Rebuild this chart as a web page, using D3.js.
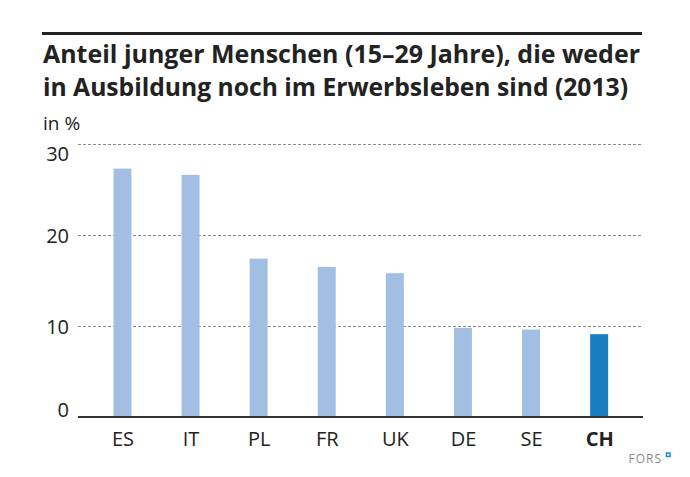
<!DOCTYPE html>
<html>
<head>
<meta charset="utf-8">
<script src="https://cdn.jsdelivr.net/npm/d3@7"></script>
<style>
  body { margin: 0; background: #fff; }
  text { font-family: "Open Sans", "Noto Sans", sans-serif; }
</style>
</head>
<body>
<script>
var countries = ["ES", "IT", "PL", "FR", "UK", "DE", "SE", "CH"];
var values = [27.3, 26.6, 17.4, 16.5, 15.8, 9.8, 9.6, 9.1];
var yTicks = [0, 10, 20, 30];
var titleLines = ["Anteil junger Menschen (15\u201329 Jahre), die weder",
  "in Ausbildung noch im Erwerbsleben sind (2013)"];

var width = 690,
  height = 477;
var margin = {
  top: 144,
  bottom: 60,
  left: 78,
  right: 47
};

var svg = d3.select('body')
  .append('svg')
  .attr('width', width)
  .attr('height', height)
  .style('background', '#fff');

// top rule + title
svg.append('line')
  .attr('x1', 42).attr('x2', 642)
  .attr('y1', 33.5).attr('y2', 33.5)
  .attr('stroke', '#222')
  .attr('stroke-width', 3);

svg.selectAll('.title')
  .data(titleLines)
  .enter()
  .append('text')
  .attr('class', 'title')
  .attr('x', 43)
  .attr('y', function(d, i) { return 63 + i * 33; })
  .attr('textLength', function(d, i) { return i == 0 ? 597 : 585; })
  .attr('lengthAdjust', 'spacingAndGlyphs')
  .style('font-size', '25px')
  .style('font-weight', 'bold')
  .style('fill', '#222')
  .text(function(d) { return d; });

svg.append('text')
  .attr('x', 43)
  .attr('y', 130)
  .style('font-size', '19px')
  .style('fill', '#222')
  .text('in %');

// scales
var yScale = d3.scaleLinear()
  .domain([0, 30])
  .range([417, margin.top]);

var xScale = d3.scalePoint()
  .domain(countries)
  .range([88.4, 633.2])
  .padding(0.5);

var barW = 18;

// gridlines
svg.selectAll('.grid')
  .data(yTicks.filter(function(d) { return d > 0; }))
  .enter()
  .append('line')
  .attr('class', 'grid')
  .attr('x1', margin.left)
  .attr('x2', 643)
  .attr('y1', function(d) { return yScale(d) + 0.5; })
  .attr('y2', function(d) { return yScale(d) + 0.5; })
  .attr('stroke', '#8a8a8a')
  .attr('stroke-width', 1)
  .attr('stroke-dasharray', '3,2');

// y labels
var yAxis = svg.append('g')
  .attr('transform', 'translate(69,0)')
  .call(d3.axisLeft(yScale).tickValues(yTicks).tickSize(0).tickPadding(0));
yAxis.select('.domain').remove();
yAxis.selectAll('text')
  .style('font-size', '20px')
  .style('fill', '#222')
  .attr('dy', function(d) {
    if (d == 30) return '0.8em';
    if (d == 0) return '-0.05em';
    return '0.35em';
  });

// bars
svg.selectAll('.bar')
  .data(values)
  .enter()
  .append('rect')
  .attr('class', 'bar')
  .attr('x', function(d, i) { return xScale(countries[i]) - barW / 2; })
  .attr('y', function(d) { return yScale(d); })
  .attr('width', barW)
  .attr('height', function(d) { return yScale(0) - yScale(d); })
  .attr('fill', function(d, i) { return countries[i] == 'CH' ? '#1a7dc2' : '#a3bee3'; });

// baseline
svg.append('line')
  .attr('x1', margin.left).attr('x2', 643)
  .attr('y1', 417).attr('y2', 417)
  .attr('stroke', '#333')
  .attr('stroke-width', 2);

// x labels
var xAxis = svg.append('g')
  .attr('transform', 'translate(0,417)')
  .call(d3.axisBottom(xScale).tickSize(0).tickPadding(0));
xAxis.select('.domain').remove();
xAxis.selectAll('text')
  .attr('y', 29)
  .attr('dy', 0)
  .style('font-size', '20px')
  .style('fill', '#222')
  .style('font-weight', function(d) { return d == 'CH' ? 'bold' : 'normal'; });

// FORS mark
svg.append('text')
  .attr('x', 662)
  .attr('y', 463)
  .attr('text-anchor', 'end')
  .style('font-size', '12px')
  .style('letter-spacing', '1px')
  .style('fill', '#8a8a8a')
  .text('FORS');
svg.append('rect')
  .attr('x', 666.5).attr('y', 453)
  .attr('width', 3.5).attr('height', 3.5)
  .attr('fill', '#fff')
  .attr('stroke', '#1a8ad4')
  .attr('stroke-width', 1.5);
</script>
</body>
</html>
